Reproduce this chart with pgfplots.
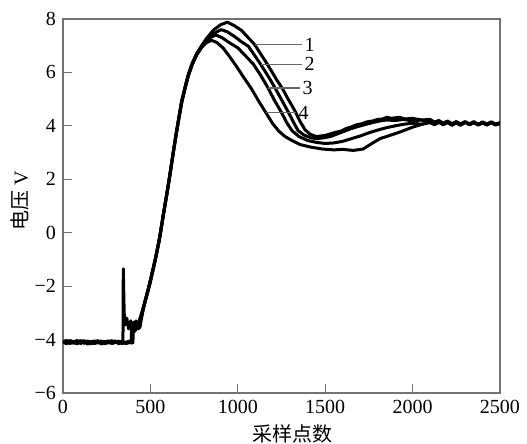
\documentclass[border=0pt]{standalone}
\usepackage{fontspec}
\setmainfont{Liberation Serif}
\newfontfamily\lser{Liberation Serif}
\newfontfamily\cjk{Noto Sans CJK SC}
\usepackage{pgfplots}
\pgfplotsset{compat=1.18}
\begin{document}
\begin{tikzpicture}
\begin{axis}[
    at={(0,0)}, anchor=south west,
    scale only axis, width=218.5pt, height=187pt,
    xmin=0, xmax=2500, ymin=-6, ymax=8,
    xtick={0,500,1000,1500,2000,2500},
    xticklabels={\mbox{\lser 0},\mbox{\lser 500},\mbox{\lser 1000},\mbox{\lser 1500},\mbox{\lser 2000},\mbox{\lser 2500}},
    ytick={-6,-4,-2,0,2,4,6,8},
    yticklabels={\mbox{\lser −6},\mbox{\lser −4},\mbox{\lser −2},\mbox{\lser 0},\mbox{\lser 2},\mbox{\lser 4},\mbox{\lser 6},\mbox{\lser 8}},
    tick pos=left, tick align=inside, major tick length=4.5pt,
    axis line style={black!55, line width=0.6pt},
    tick style={black!55, line width=0.6pt},
    xlabel={{\cjk 采样点数}},
    ylabel={{\cjk 电压}\ {\lser V}},
    xlabel style={at={(axis description cs:0.526,-0.11)}, anchor=center},
    ylabel style={at={(axis description cs:-0.098,0.513)}, anchor=center},
]
% curve 1
\addplot[black, no marks, line width=1.5pt, line join=round] coordinates {(0,-4.06)(20,-4.14)(40,-4.08)(60,-4.12)(80,-4.03)(100,-4.15)(120,-4.07)(140,-4.17)(160,-4.1)(180,-4.05)(200,-4.13)(220,-4.08)(240,-4.16)(260,-4.09)(280,-4.04)(300,-4.12)(320,-4.09)(340,-4.15)(360,-4.1)(380,-4.06)(395,-4.12)(398,-3.4)(410,-3.7)(420,-3.4)(432,-3.6)(445,-3.25)(459,-2.85)(480,-2.35)(500,-1.85)(517,-1.35)(540,-0.65)(555,-0.15)(574,0.65)(595,1.45)(612,2.15)(630,2.95)(650,3.78)(665,4.38)(679,4.9)(700,5.48)(717,5.9)(740,6.33)(765,6.7)(795,7.02)(822,7.28)(860,7.58)(900,7.78)(940,7.88)(980,7.75)(1020,7.58)(1060,7.3)(1098,7.03)(1130,6.7)(1160,6.4)(1190,6.08)(1220,5.75)(1253,5.42)(1290,4.98)(1327,4.56)(1355,4.18)(1385,3.85)(1415,3.68)(1450,3.6)(1500,3.64)(1530,3.7)(1560,3.76)(1590,3.8)(1620,3.9)(1650,3.96)(1680,4.04)(1710,4.08)(1740,4.15)(1770,4.18)(1800,4.24)(1830,4.26)(1853,4.32)(1880,4.28)(1920,4.32)(1960,4.26)(2000,4.28)(2050,4.22)(2100,4.24)(2125,4.14)(2150,4.2)(2175,4.1)(2200,4.18)(2225,4.08)(2250,4.16)(2275,4.06)(2300,4.14)(2325,4.04)(2350,4.12)(2375,4.05)(2400,4.13)(2425,4.03)(2450,4.11)(2475,4.04)(2500,4.1)};
% curve 2
\addplot[black, no marks, line width=1.5pt, line join=round] coordinates {(0,-4.12)(20,-4.05)(40,-4.15)(60,-4.07)(80,-4.13)(100,-4.04)(120,-4.14)(140,-4.08)(160,-4.16)(180,-4.09)(200,-4.04)(220,-4.15)(240,-4.07)(260,-4.13)(280,-4.1)(300,-4.05)(320,-4.16)(340,-4.08)(360,-4.13)(380,-4.09)(400,-4.12)(403,-3.35)(415,-3.65)(428,-3.45)(440,-3.55)(452,-3.1)(465,-2.7)(480,-2.3)(500,-1.8)(517,-1.3)(540,-0.6)(555,-0.1)(574,0.7)(595,1.5)(612,2.2)(630,3.0)(650,3.82)(665,4.4)(679,4.95)(700,5.5)(717,5.93)(740,6.36)(765,6.7)(795,7.0)(822,7.22)(860,7.45)(905,7.6)(940,7.52)(980,7.35)(1020,7.15)(1060,6.98)(1095,6.65)(1130,6.31)(1165,5.95)(1190,5.68)(1213,5.42)(1250,4.98)(1290,4.5)(1320,4.12)(1345,3.82)(1380,3.65)(1415,3.56)(1450,3.52)(1490,3.55)(1530,3.6)(1570,3.7)(1610,3.8)(1650,3.9)(1690,3.98)(1730,4.05)(1770,4.12)(1810,4.18)(1850,4.22)(1900,4.2)(1950,4.24)(2000,4.18)(2050,4.22)(2100,4.14)(2125,4.06)(2150,4.15)(2175,4.04)(2200,4.14)(2225,4.02)(2250,4.12)(2275,4.05)(2300,4.15)(2325,4.07)(2350,4.16)(2375,4.06)(2400,4.12)(2425,4.04)(2450,4.14)(2475,4.07)(2500,4.12)};
% curve 3
\addplot[black, no marks, line width=1.5pt, line join=round] coordinates {(0,-4.09)(20,-4.16)(40,-4.04)(60,-4.14)(80,-4.09)(100,-4.06)(120,-4.12)(140,-4.05)(160,-4.14)(180,-4.12)(200,-4.07)(220,-4.17)(240,-4.1)(260,-4.05)(280,-4.14)(300,-4.08)(320,-4.13)(340,-4.06)(360,-4.15)(380,-4.11)(390,-4.13)(392,-3.5)(405,-3.6)(418,-3.3)(430,-3.55)(442,-3.3)(455,-2.95)(470,-2.55)(490,-2.05)(510,-1.5)(530,-0.95)(550,-0.3)(570,0.5)(590,1.3)(610,2.1)(630,2.95)(648,3.7)(665,4.35)(682,4.95)(700,5.45)(720,5.95)(742,6.35)(768,6.72)(795,6.98)(822,7.18)(850,7.33)(875,7.4)(910,7.3)(950,7.12)(1000,6.92)(1040,6.65)(1090,6.3)(1130,5.9)(1173,5.42)(1210,4.95)(1250,4.5)(1280,4.12)(1310,3.82)(1350,3.6)(1400,3.45)(1450,3.38)(1500,3.34)(1550,3.36)(1600,3.42)(1650,3.52)(1700,3.62)(1750,3.74)(1800,3.84)(1850,3.93)(1900,4.0)(1950,4.06)(2000,4.1)(2050,4.06)(2100,4.12)(2125,4.04)(2150,4.13)(2175,4.06)(2200,4.16)(2225,4.05)(2250,4.1)(2275,4.02)(2300,4.12)(2325,4.06)(2350,4.14)(2375,4.03)(2400,4.1)(2425,4.06)(2450,4.15)(2475,4.05)(2500,4.08)};
% curve 4
\addplot[black, no marks, line width=1.5pt, line join=round] coordinates {(0,-4.1)(20,-4.04)(40,-4.13)(60,-4.06)(80,-4.16)(100,-4.09)(120,-4.04)(140,-4.13)(160,-4.07)(180,-4.15)(200,-4.1)(220,-4.05)(240,-4.12)(260,-4.06)(280,-4.15)(300,-4.1)(320,-4.06)(335,-4.12)(343,-4.08)(345,-1.35)(350,-3.0)(356,-3.45)(365,-3.2)(375,-3.6)(388,-3.3)(400,-3.7)(412,-3.35)(425,-3.55)(438,-3.25)(450,-3.0)(465,-2.65)(485,-2.2)(505,-1.65)(525,-1.1)(545,-0.45)(565,0.3)(585,1.1)(605,1.9)(625,2.75)(645,3.6)(662,4.25)(678,4.85)(698,5.4)(716,5.85)(740,6.3)(765,6.65)(795,6.95)(822,7.12)(850,7.2)(880,7.12)(915,6.92)(950,6.62)(990,6.25)(1030,5.85)(1075,5.42)(1120,4.92)(1160,4.5)(1200,4.08)(1235,3.8)(1270,3.6)(1310,3.45)(1356,3.3)(1420,3.2)(1487,3.13)(1550,3.1)(1600,3.12)(1660,3.08)(1716,3.13)(1770,3.35)(1813,3.52)(1860,3.62)(1911,3.73)(1960,3.85)(2000,3.95)(2050,4.05)(2100,4.15)(2125,4.08)(2150,4.16)(2175,4.05)(2200,4.12)(2225,4.03)(2250,4.14)(2275,4.07)(2300,4.16)(2325,4.05)(2350,4.11)(2375,4.04)(2400,4.15)(2425,4.07)(2450,4.13)(2475,4.03)(2500,4.1)};
% leader lines and labels
\draw[black!60, line width=0.6pt] (axis cs:1098,7.03) -- (axis cs:1367,7.03) node[anchor=west, inner sep=1pt, black, font=\lser] {1};
\draw[black!60, line width=0.6pt] (axis cs:1130,6.31) -- (axis cs:1367,6.31) node[anchor=west, inner sep=1pt, black, font=\lser] {2};
\draw[black!60, line width=0.6pt] (axis cs:1173,5.42) -- (axis cs:1356,5.42) node[anchor=west, inner sep=1pt, black, font=\lser] {3};
\draw[black!60, line width=0.6pt] (axis cs:1160,4.5) -- (axis cs:1333,4.5) node[anchor=west, inner sep=1pt, black, font=\lser] {4};
\end{axis}
\pgfresetboundingbox
\path[use as bounding box] (-31.5pt,-25.5pt) rectangle (232pt,196.5pt);
\end{tikzpicture}
\end{document}
